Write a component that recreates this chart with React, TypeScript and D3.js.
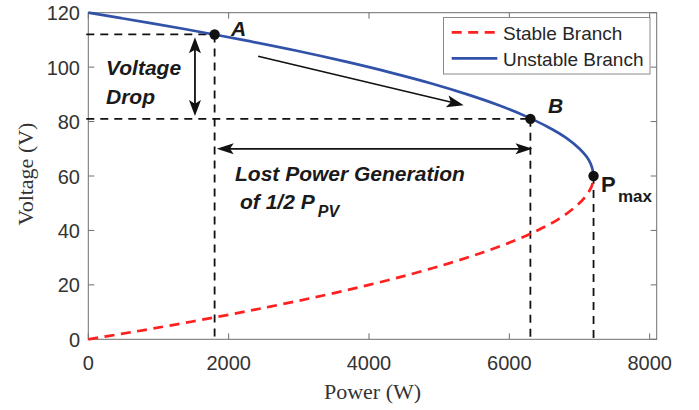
import React from 'react';
import * as d3 from 'd3';

// ---- data ----
const unstableVoltage = [120, 118, 116, 114, 112, 110, 106, 102, 98, 94, 90, 86, 82, 78, 74, 70, 66, 63, 60];
const unstablePower = [0, 470, 930, 1370, 1790, 2200, 2970, 3670, 4310, 4890, 5400, 5850, 6230, 6550, 6810, 7000, 7130, 7180, 7200];
const stableVoltage = [0, 2, 4, 8, 12, 16, 20, 24, 28, 32, 36, 40, 44, 48, 52, 56, 58, 60];
const stablePower = [0, 470, 930, 1790, 2590, 3330, 4000, 4610, 5150, 5630, 6050, 6400, 6690, 6910, 7070, 7170, 7190, 7200];

const pointNames = ['A', 'B', 'Pmax'];
const pointPower = [1800, 6300, 7200];
const pointVoltage = [112, 81, 60];

const xTicks = [0, 2000, 4000, 6000, 8000];
const yTicks = [0, 20, 40, 60, 80, 100, 120];
const xDomain = [0, 8100];
const yDomain = [0, 120];
const legendLabels = ['Stable Branch', 'Unstable Branch'];

const W = 699;
const H = 410;
const L = 88.3, R = 656.7, T = 12.7, B = 339.3;

const SANS = "'Liberation Sans', Arial, Helvetica, sans-serif";
const SERIF = "'Liberation Serif', 'Times New Roman', serif";
const RED = '#ff2020';
const BLUE = '#3152a8';
const AX = '#6e6e6e';

function head(fx: number, fy: number, tx: number, ty: number, len = 16, hw = 6) {
  const dx = tx - fx, dy = ty - fy;
  const d = Math.hypot(dx, dy);
  const ux = dx / d, uy = dy / d;
  const px = -uy, py = ux;
  const bx = tx - ux * len, by = ty - uy * len;
  const nx = tx - ux * len * 0.78, ny = ty - uy * len * 0.78;
  return `${tx},${ty} ${bx + px * hw},${by + py * hw} ${nx},${ny} ${bx - px * hw},${by - py * hw}`;
}

export default function App() {
  const x = d3.scaleLinear().domain(xDomain).range([L, R]);
  const y = d3.scaleLinear().domain(yDomain).range([B, T]);

  const line = d3.line<[number, number]>()
    .x(d => x(d[0]))
    .y(d => y(d[1]))
    .curve(d3.curveCatmullRom.alpha(0.5));

  const unstable = unstablePower.map((p, i) => [p, unstableVoltage[i]] as [number, number]);
  const stable = stablePower.map((p, i) => [p, stableVoltage[i]] as [number, number]);

  const [pA, pB, pM] = pointPower;
  const [vA, vB, vM] = pointVoltage;

  // annotation arrows (data coordinates)
  const vdX = x(1520), vdY1 = y(111), vdY2 = y(82);
  const lpY = y(70), lpX1 = x(1830), lpX2 = x(6330);
  const dgX1 = x(2420), dgY1 = y(104), dgX2 = x(5350), dgY2 = y(86);

  const dash = '8,6';

  return (
    <div style={{ position: 'fixed', left: 0, top: 0 }}>
      <svg width={W} height={H} style={{ display: 'block', background: '#fff' }}>
        {/* plot box */}
        <rect x={L} y={T} width={R - L} height={B - T} fill="#fff" stroke={AX} strokeWidth={1} />
        {xTicks.map(t => (
          <g key={'xt' + t}>
            <line x1={x(t)} x2={x(t)} y1={B} y2={B - 6} stroke={AX} strokeWidth={1} />
            <line x1={x(t)} x2={x(t)} y1={T} y2={T + 6} stroke={AX} strokeWidth={1} />
            <text x={x(t)} y={370} textAnchor="middle" fontFamily={SANS} fontSize={20} fill="#333">{t}</text>
          </g>
        ))}
        {yTicks.map(t => (
          <g key={'yt' + t}>
            <line x1={L} x2={L + 6} y1={y(t)} y2={y(t)} stroke={AX} strokeWidth={1} />
            <line x1={R} x2={R - 6} y1={y(t)} y2={y(t)} stroke={AX} strokeWidth={1} />
            <text x={80} y={y(t) + 7.5} textAnchor="end" fontFamily={SANS} fontSize={20} fill="#333">{t}</text>
          </g>
        ))}
        <text x={(L + R) / 2} y={399} textAnchor="middle" fontFamily={SERIF} fontSize={22} fill="#333">Power (W)</text>
        <text transform={`translate(33,${174}) rotate(-90)`} textAnchor="middle" fontFamily={SERIF} fontSize={22} fill="#333">Voltage (V)</text>

        {/* guide dashed lines */}
        <g stroke="#111" strokeWidth={1.8} strokeDasharray={dash} fill="none">
          <line x1={x(0) - 2} x2={x(pA)} y1={y(vA)} y2={y(vA)} />
          <line x1={x(0) - 2} x2={x(pB)} y1={y(vB)} y2={y(vB)} />
          <line x1={x(pA)} x2={x(pA)} y1={y(vA)} y2={y(0)} />
          <line x1={x(pB)} x2={x(pB)} y1={y(vB)} y2={y(0)} />
          <line x1={x(pM)} x2={x(pM)} y1={y(vM)} y2={y(0)} />
        </g>

        {/* curves */}
        <path d={line(stable) || ''} fill="none" stroke={RED} strokeWidth={2.7} strokeDasharray="10,6.5" />
        <path d={line(unstable) || ''} fill="none" stroke={BLUE} strokeWidth={2.7} />

        {/* points */}
        {pointNames.map((n, i) => (
          <circle key={n} cx={x(pointPower[i])} cy={y(pointVoltage[i])} r={5.2} fill="#111" />
        ))}

        {/* arrows */}
        <g stroke="#111" strokeWidth={1.8} fill="#111">
          <line x1={vdX} x2={vdX} y1={vdY1 + 8} y2={vdY2 - 8} />
          <polygon points={head(vdX, vdY2, vdX, vdY1)} stroke="none" />
          <polygon points={head(vdX, vdY1, vdX, vdY2)} stroke="none" />
          <line x1={lpX1 + 8} x2={lpX2 - 8} y1={lpY} y2={lpY} />
          <polygon points={head(lpX2, lpY, lpX1, lpY, 17, 5.5)} stroke="none" />
          <polygon points={head(lpX1, lpY, lpX2, lpY, 17, 5.5)} stroke="none" />
          <line x1={dgX1} y1={dgY1} x2={dgX2 - 8} y2={dgY2 - 2} strokeWidth={1.6} />
          <polygon points={head(dgX1, dgY1, dgX2, dgY2, 17, 6)} stroke="none" />
        </g>

        {/* labels */}
        <g fontFamily={SANS} fontWeight="bold" fill="#1a1a1a">
          <text x={231} y={36} fontSize={21} fontStyle="italic">A</text>
          <text x={548} y={113} fontSize={21} fontStyle="italic">B</text>
          <text x={601} y={191.5} fontSize={22}>P</text>
          <text x={618} y={202} fontSize={17}>max</text>
          <text x={106} y={75} fontSize={21} fontStyle="italic">Voltage</text>
          <text x={106} y={104} fontSize={21} fontStyle="italic">Drop</text>
          <text x={235} y={181} fontSize={21} fontStyle="italic">Lost Power Generation</text>
          <text x={240} y={208.5} fontSize={21} fontStyle="italic">
            of 1/2 P<tspan dx={3} dy={8} fontSize={16}>PV</tspan>
          </text>
        </g>

        {/* legend */}
        <rect x={443.5} y={17.5} width={206.5} height={56.5} fill="#fff" stroke="#8a8a8a" strokeWidth={1} />
        <line x1={451.7} x2={497.3} y1={32.3} y2={32.3} stroke={RED} strokeWidth={2.7} strokeDasharray="10,6.5" />
        <line x1={451.7} x2={497.3} y1={58.3} y2={58.3} stroke={BLUE} strokeWidth={2.7} />
        <text x={503} y={39.5} fontFamily={SANS} fontSize={19} fill="#262626">{legendLabels[0]}</text>
        <text x={503} y={65.5} fontFamily={SANS} fontSize={19} fill="#262626">{legendLabels[1]}</text>
      </svg>
    </div>
  );
}
